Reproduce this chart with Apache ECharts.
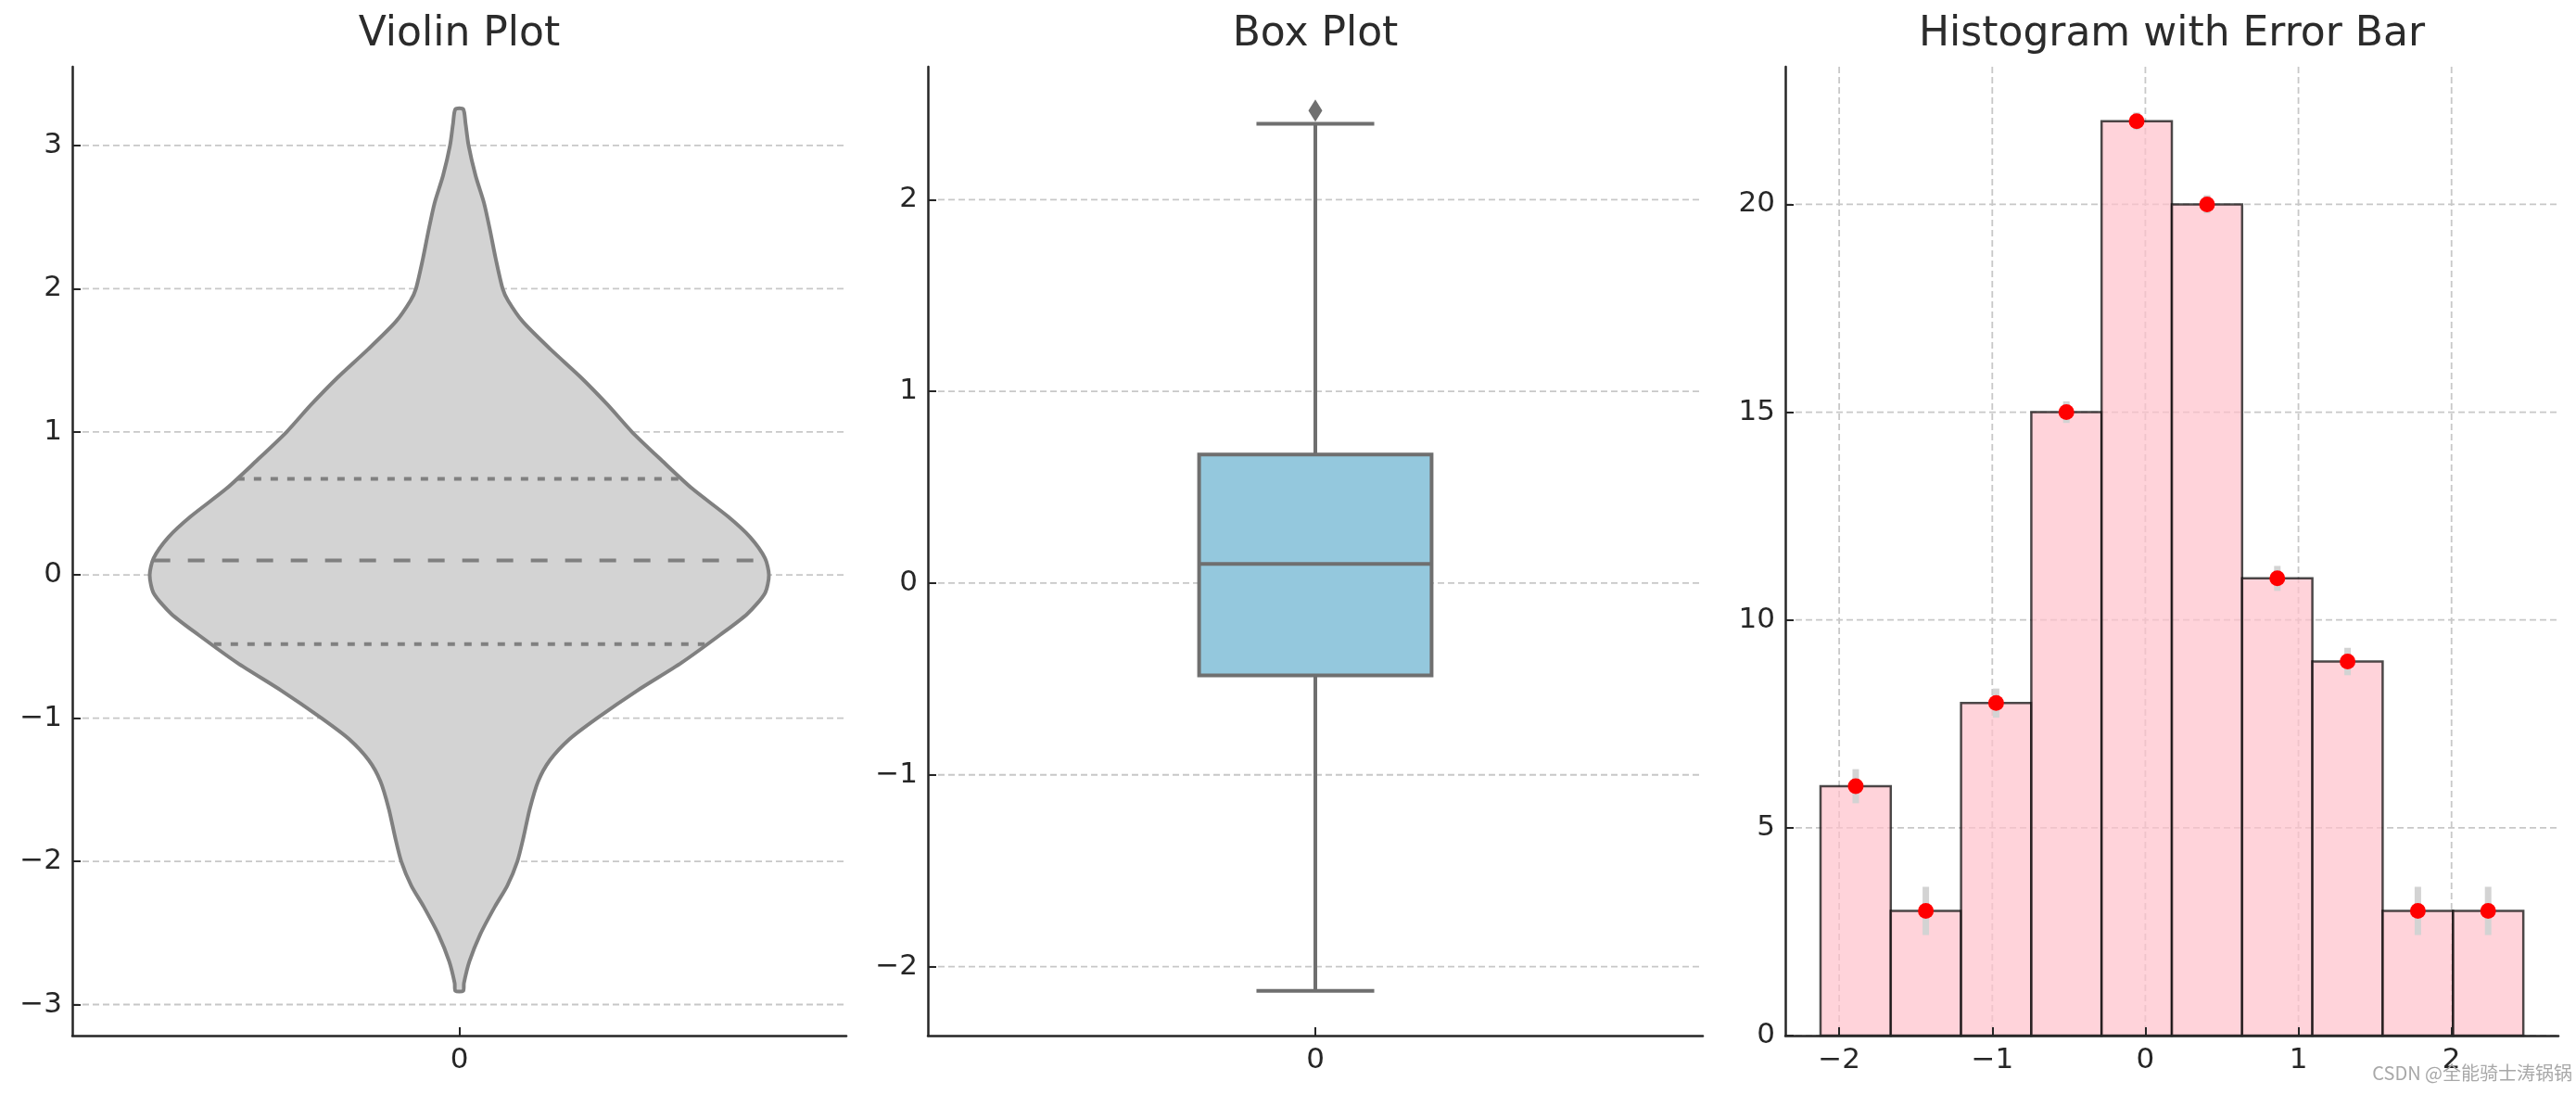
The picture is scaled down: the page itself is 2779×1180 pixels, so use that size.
<!DOCTYPE html>
<html><head><meta charset="utf-8">
<script src="https://cdn.jsdelivr.net/npm/echarts@6/dist/echarts.min.js"></script>
<style>html,body{margin:0;padding:0;background:#fff}#c{width:2779px;height:1180px}</style>
</head><body><div id="c"></div>
<script>
// ---------- data ----------
const titles = ['Violin Plot', 'Box Plot', 'Histogram with Error Bar'];
const categoryLabels = ['0'];

// violin outline: y value and half width (fraction of category band)
const violinY = [3.254, 3.157, 3.0, 2.79, 2.597, 2.40, 2.21, 2.0, 1.917, 1.77, 1.576, 1.381, 1.187, 1.0, 0.798, 0.603, 0.409, 0.263, 0.117, 0.0, -0.126, -0.272, -0.418, -0.613, -0.807, -1.0, -1.148, -1.294, -1.44, -1.635, -1.83, -2.0, -2.17, -2.316, -2.51, -2.70, -2.85, -2.905];
const violinHalfWidth = [0.005, 0.008, 0.012, 0.021, 0.032, 0.040, 0.047, 0.056, 0.063, 0.082, 0.118, 0.157, 0.192, 0.223, 0.262, 0.301, 0.347, 0.376, 0.395, 0.400, 0.395, 0.372, 0.337, 0.287, 0.230, 0.178, 0.142, 0.117, 0.102, 0.091, 0.083, 0.075, 0.062, 0.046, 0.027, 0.013, 0.006, 0.005];
const violinQuartiles = [-0.482, 0.102, 0.671];
const violinQuartileHalfWidth = [0.317, 0.395, 0.287];

// box plot: whisker low, Q1, median, Q3, whisker high
const boxStats = [-2.127, -0.482, 0.100, 0.670, 2.396];
const boxOutliers = [2.465];

// histogram
const histEdges = [-2.122, -1.663, -1.204, -0.745, -0.286, 0.173, 0.632, 1.091, 1.550, 2.010, 2.469];
const histCounts = [6, 3, 8, 15, 22, 20, 11, 9, 3, 3];
const histCenters = [-1.892, -1.434, -0.975, -0.516, -0.057, 0.403, 0.862, 1.321, 1.780, 2.239];
const histErrors = [0.41, 0.58, 0.35, 0.26, 0.21, 0.22, 0.30, 0.33, 0.58, 0.58];

// ticks
const violinTicks = [-3, -2, -1, 0, 1, 2, 3];
const boxTicks = [-2, -1, 0, 1, 2];
const histXTicks = [-2, -1, 0, 1, 2];
const histYTicks = [0, 5, 10, 15, 20];

// ---------- chart ----------
const FONT = 'DejaVu Sans';
const TXT = '#262626';
const fmt = v => (v < 0 ? '\u2212' + (-v) : String(v));

const grids = [
  {left: 78, top: 72, width: 835, height: 1045},
  {left: 1001, top: 72, width: 836, height: 1045},
  {left: 1926, top: 72, width: 834, height: 1045}
];

function axisCommon(ticks) {
  return {
    z: 10,
    axisLine: {show: true, onZero: false, lineStyle: {color: TXT, width: 2.5}},
    axisTick: {show: true, inside: true, length: 9, lineStyle: {color: TXT, width: 2}, customValues: ticks},
    axisLabel: {color: TXT, fontSize: 31, fontFamily: FONT, margin: 11, formatter: fmt, customValues: ticks},
    splitLine: {show: false}
  };
}

function catAxis(gi) {
  return Object.assign(axisCommon(), {
    type: 'category', gridIndex: gi, data: categoryLabels, boundaryGap: true,
    axisTick: {show: true, inside: true, length: 9, alignWithLabel: true, lineStyle: {color: TXT, width: 2}},
    axisLabel: {color: TXT, fontSize: 31, fontFamily: FONT, margin: 11}
  });
}

const gridStyle = {stroke: '#c8c8c8', lineWidth: 1.8, lineDash: [7, 4]};

function hLines(xi, yi, ticks) {
  return {
    type: 'custom', xAxisIndex: xi, yAxisIndex: yi, z: 1, silent: true,
    data: ticks.map(t => [0, t]), encode: {x: 0, y: 1},
    renderItem: (params, api) => {
      const cs = params.coordSys;
      const y = api.coord([0, api.value(1)])[1];
      return {type: 'line', shape: {x1: cs.x, y1: y, x2: cs.x + cs.width, y2: y}, style: gridStyle};
    }
  };
}
function vLines(xi, yi, ticks) {
  return {
    type: 'custom', xAxisIndex: xi, yAxisIndex: yi, z: 1, silent: true,
    data: ticks.map(t => [t, 0]), encode: {x: 0, y: 1},
    renderItem: (params, api) => {
      const cs = params.coordSys;
      const x = api.coord([api.value(0), 0])[0];
      return {type: 'line', shape: {x1: x, y1: cs.y, x2: x, y2: cs.y + cs.height}, style: gridStyle};
    }
  };
}

const option = {
  animation: false,
  backgroundColor: '#ffffff',
  title: titles.map((t, i) => ({
    text: t, left: grids[i].left + grids[i].width / 2, top: 16, textAlign: 'center', padding: 0,
    textStyle: {fontFamily: FONT, fontSize: 44, fontWeight: 'normal', color: '#2b2b2b'}
  })),
  grid: grids.map(g => Object.assign({containLabel: false}, g)),
  xAxis: [
    catAxis(0),
    catAxis(1),
    Object.assign(axisCommon(histXTicks), {type: 'value', gridIndex: 2, min: -2.352, max: 2.698})
  ],
  yAxis: [
    Object.assign(axisCommon(violinTicks), {type: 'value', gridIndex: 0, min: -3.217, max: 3.55}),
    Object.assign(axisCommon(boxTicks), {type: 'value', gridIndex: 1, min: -2.360, max: 2.693}),
    Object.assign(axisCommon(histYTicks), {type: 'value', gridIndex: 2, min: 0, max: 23.31})
  ],
  series: [
    hLines(0, 0, violinTicks),
    hLines(1, 1, boxTicks),
    hLines(2, 2, histYTicks),
    vLines(2, 2, histXTicks),
    // violin
    {
      type: 'custom', xAxisIndex: 0, yAxisIndex: 0, z: 3, data: [[0, 0]], encode: {x: 0, y: 1},
      renderItem: (params, api) => {
        const band = api.size([1, 0])[0];
        const cx = api.coord([0, 0])[0];
        const pts = [];
        for (let i = 0; i < violinY.length; i++) {
          pts.push([cx - violinHalfWidth[i] * band, api.coord([0, violinY[i]])[1]]);
        }
        for (let i = violinY.length - 1; i >= 0; i--) {
          pts.push([cx + violinHalfWidth[i] * band, api.coord([0, violinY[i]])[1]]);
        }
        const children = [{
          type: 'polygon', shape: {points: pts, smooth: 0.25},
          style: {fill: '#d3d3d3', stroke: '#808080', lineWidth: 4}
        }];
        violinQuartiles.forEach((q, i) => {
          const y = api.coord([0, q])[1];
          const hw = violinQuartileHalfWidth[i] * band;
          children.push({
            type: 'line', shape: {x1: cx - hw, y1: y, x2: cx + hw, y2: y},
            style: {stroke: '#808080', lineWidth: 4, lineDash: i === 1 ? [18, 19] : [8, 10]}
          });
        });
        return {type: 'group', children};
      }
    },
    // box
    {
      type: 'custom', xAxisIndex: 1, yAxisIndex: 1, z: 3, data: [[0].concat(boxStats)], encode: {x: 0, y: [1, 2, 3, 4, 5]},
      renderItem: (params, api) => {
        const band = api.size([1, 0])[0];
        const cx = api.coord([0, 0])[0];
        const y = k => api.coord([0, api.value(k)])[1];
        const bw = 0.15 * band, cw = 0.076 * band;
        const ls = {stroke: '#6f6f6f', lineWidth: 4};
        return {type: 'group', children: [
          {type: 'line', shape: {x1: cx, y1: y(1), x2: cx, y2: y(2)}, style: ls},
          {type: 'line', shape: {x1: cx, y1: y(4), x2: cx, y2: y(5)}, style: ls},
          {type: 'line', shape: {x1: cx - cw, y1: y(1), x2: cx + cw, y2: y(1)}, style: ls},
          {type: 'line', shape: {x1: cx - cw, y1: y(5), x2: cx + cw, y2: y(5)}, style: ls},
          {type: 'rect', shape: {x: cx - bw, y: y(4), width: 2 * bw, height: y(2) - y(4)},
           style: {fill: '#94c8dd', stroke: '#6f6f6f', lineWidth: 4}},
          {type: 'line', shape: {x1: cx - bw, y1: y(3), x2: cx + bw, y2: y(3)}, style: ls}
        ]};
      }
    },
    {
      type: 'scatter', xAxisIndex: 1, yAxisIndex: 1, z: 4,
      data: boxOutliers.map(v => [0, v]), symbol: 'diamond', symbolSize: [15, 24],
      itemStyle: {color: '#6f6f6f', opacity: 1}
    },
    // histogram bars
    {
      type: 'custom', xAxisIndex: 2, yAxisIndex: 2, z: 3,
      data: histCounts.map((c, i) => [histEdges[i], histEdges[i + 1], c]), encode: {x: [0, 1], y: 2},
      renderItem: (params, api) => {
        const p0 = api.coord([api.value(0), api.value(2)]);
        const p1 = api.coord([api.value(1), 0]);
        return {type: 'rect', shape: {x: p0[0], y: p0[1], width: p1[0] - p0[0], height: p1[1] - p0[1]},
          style: {fill: 'rgba(255,192,203,0.7)', stroke: 'rgba(0,0,0,0.7)', lineWidth: 2.5}};
      }
    },
    // error bars
    {
      type: 'custom', xAxisIndex: 2, yAxisIndex: 2, z: 4,
      data: histCenters.map((c, i) => [c, histCounts[i], histErrors[i]]), encode: {x: 0, y: 1},
      renderItem: (params, api) => {
        const c = api.value(0), v = api.value(1), e = api.value(2);
        const a = api.coord([c, v - e]), b = api.coord([c, v + e]);
        return {type: 'line', shape: {x1: a[0], y1: a[1], x2: b[0], y2: b[1]},
          style: {stroke: '#d3d3d3', lineWidth: 7}};
      }
    },
    {
      type: 'scatter', xAxisIndex: 2, yAxisIndex: 2, z: 5,
      data: histCenters.map((c, i) => [c, histCounts[i]]), symbol: 'circle', symbolSize: 17,
      itemStyle: {color: '#ff0000', opacity: 1}
    }
  ],
  graphic: [{
    type: 'text', right: 4, top: 1147, z: 100,
    style: {text: 'CSDN @全能骑士涛锅锅', fontSize: 20, fontFamily: '"Noto Sans CJK SC", sans-serif', fill: '#a8a8a8'}
  }]
};

const chart = echarts.init(document.getElementById('c'), null, {renderer: 'canvas'});
chart.setOption(option);
</script>
</body></html>
